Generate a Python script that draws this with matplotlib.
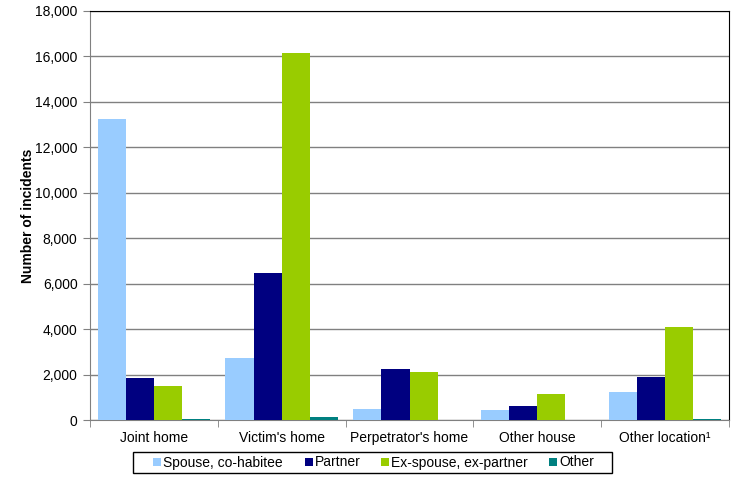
import matplotlib
matplotlib.use("Agg")
import matplotlib.pyplot as plt
from matplotlib.patches import Rectangle
import numpy as np

plt.rcParams['font.family'] = ['Liberation Sans', 'DejaVu Sans']

categories = ["Joint home", "Victim's home", "Perpetrator's home", "Other house", "Other location\u00b9"]
series_names = ["Spouse, co-habitee", "Partner", "Ex-spouse, ex-partner", "Other"]
spouse = [13230, 2720, 500, 440, 1230]
partner = [1870, 6480, 2230, 620, 1890]
ex_partner = [1510, 16140, 2110, 1130, 4080]
other = [30, 120, 20, 0, 50]
yticks = [0, 2000, 4000, 6000, 8000, 10000, 12000, 14000, 16000, 18000]
colors = ["#99CCFF", "#000080", "#99CC00", "#008080"]

W, H = 742, 479
fig = plt.figure(figsize=(W/100, H/100), dpi=100)
ax = fig.add_axes([90/W, 1 - 420/H, (729-90)/W, (420-11)/H])

x = np.arange(len(categories))
w = 0.22
data = [spouse, partner, ex_partner, other]
for i, (vals, c, name) in enumerate(zip(data, colors, series_names)):
    ax.bar(x + (i - 1.5) * w, vals, w, color=c, label=name, zorder=3)

ax.set_xlim(-0.5, len(categories) - 0.5)
ax.set_ylim(0, 18000)
ax.set_yticks(yticks)
ax.set_yticklabels([f"{v:,}" for v in yticks], fontsize=10)
ax.yaxis.grid(True, color="#808080", linewidth=1, zorder=0)
ax.set_axisbelow(True)
ax.set_xticks(x)
ax.set_xticklabels(categories, fontsize=10)
ax.tick_params(axis='x', length=0, pad=8)
ax.set_xticks(np.arange(-0.5, len(categories)), minor=True)
ax.tick_params(axis='x', which='minor', length=5, color="#808080")
ax.tick_params(axis='y', length=5, color="#808080", pad=4)
ax.set_ylabel("Number of incidents", fontsize=10, fontweight='bold', labelpad=0)

for s in ['left', 'bottom']:
    ax.spines[s].set_color("#808080")
for s in ['top', 'right']:
    ax.spines[s].set_color("#000000")

# legend box, drawn by hand so that all labels share one baseline
fig.add_artist(Rectangle((133/W, 1 - 473/H), (612-133)/W, 21/H,
                         transform=fig.transFigure, fill=False, edgecolor='black', linewidth=1))
swatch_x = [153, 305, 381, 549]
for sx, c, name in zip(swatch_x, colors, series_names):
    fig.add_artist(Rectangle((sx/W, 1 - 466/H), 8/W, 8/H, transform=fig.transFigure,
                             facecolor=c, edgecolor='none'))
    fig.text((sx + 10)/W, 1 - 466.5/H, name, fontsize=10, va='baseline', ha='left')

fig.savefig("out.png", dpi=100)
